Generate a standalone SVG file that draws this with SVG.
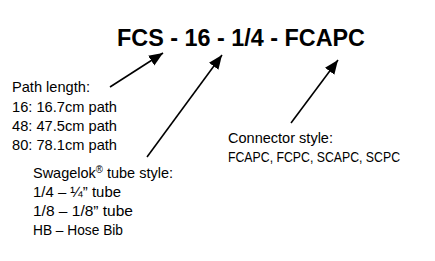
<svg xmlns="http://www.w3.org/2000/svg" width="435" height="261" viewBox="0 0 435 261">
<style>
text{font-family:"Liberation Sans",Arial,sans-serif;fill:#000}
.t{font-size:24px;font-weight:bold}
.l{font-size:15px}
.c{stroke:#000;stroke-width:1.6;fill:none}
</style>
<defs>
<marker id="ah" markerUnits="userSpaceOnUse" markerWidth="14" markerHeight="12" refX="12" refY="5" orient="auto" viewBox="0 0 12 10">
<path d="M0,0 L12,5 L0,10 Z" fill="#000"/>
</marker>
</defs>
<rect width="435" height="261" fill="#fff"/>
<g id="title"><text class="t" x="117" y="46" textLength="248" lengthAdjust="spacingAndGlyphs">FCS - 16 - 1/4 - FCAPC</text></g>
<g id="path-length">
<text class="l" x="12" y="92" textLength="78" lengthAdjust="spacingAndGlyphs">Path length:</text>
<text class="l" x="12" y="112" textLength="105" lengthAdjust="spacingAndGlyphs">16: 16.7cm path</text>
<text class="l" x="12" y="131" textLength="105" lengthAdjust="spacingAndGlyphs">48: 47.5cm path</text>
<text class="l" x="12" y="150" textLength="105" lengthAdjust="spacingAndGlyphs">80: 78.1cm path</text>
</g>
<g id="tube-style">
<text class="l" x="33" y="178" textLength="140" lengthAdjust="spacingAndGlyphs">Swagelok<tspan font-size="10" dy="-5">®</tspan><tspan dy="5"> tube style:</tspan></text>
<text class="l" x="33" y="197" textLength="88" lengthAdjust="spacingAndGlyphs">1/4 – ¼” tube</text>
<text class="l" x="33" y="216" textLength="100" lengthAdjust="spacingAndGlyphs">1/8 – 1/8” tube</text>
<text class="l" x="33" y="235" textLength="90" lengthAdjust="spacingAndGlyphs">HB – Hose Bib</text>
</g>
<g id="connector-style">
<text class="l" x="228" y="143" textLength="105" lengthAdjust="spacingAndGlyphs">Connector style:</text>
<text class="l" x="228" y="162" textLength="172" lengthAdjust="spacingAndGlyphs">FCAPC, FCPC, SCAPC, SCPC</text>
</g>
<g id="connectors">
<line class="c" x1="110" y1="87" x2="163" y2="53" marker-end="url(#ah)"/>
<line class="c" x1="147" y1="157" x2="222" y2="55" marker-end="url(#ah)"/>
<line class="c" x1="291" y1="123" x2="338" y2="60" marker-end="url(#ah)"/>
</g>
</svg>
